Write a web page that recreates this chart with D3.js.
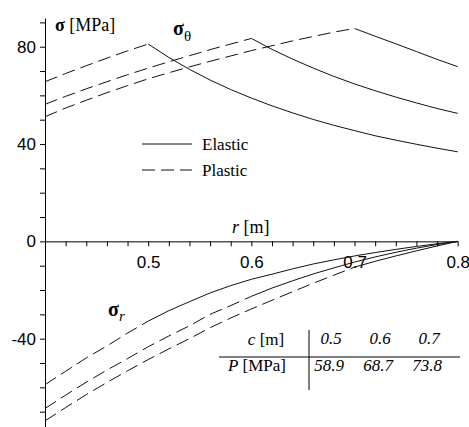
<!DOCTYPE html>
<html>
<head>
<meta charset="utf-8">
<script src="https://cdn.jsdelivr.net/npm/d3@7"></script>
<style>
  body { margin: 0; background: #fff; }
  svg { display: block; }
</style>
</head>
<body>
<div id="chart"></div>
<script>
// radius grid [m]
const rValues = [0.40, 0.42, 0.44, 0.46, 0.48, 0.50, 0.52, 0.54, 0.56, 0.58, 0.60,
                 0.62, 0.64, 0.66, 0.68, 0.70, 0.72, 0.74, 0.76, 0.78, 0.80];

// plastic radius c [m] and inner pressure P [MPa]
const cValues = [0.5, 0.6, 0.7];
const pValues = [58.9, 68.7, 73.8];

// hoop stress sigma_theta [MPa]
const sigmaTheta05 = [65.6, 69.0, 72.2, 75.3, 78.3, 81.1, 75.6, 70.7, 66.3, 62.4, 58.9,
                      55.7, 52.8, 50.1, 47.7, 45.5, 43.4, 41.6, 39.9, 38.3, 36.8];
const sigmaTheta06 = [56.3, 59.6, 62.7, 65.6, 68.5, 71.2, 73.8, 76.3, 78.8, 81.1, 83.4,
                      78.9, 74.9, 71.2, 67.8, 64.7, 61.9, 59.3, 56.9, 54.6, 52.6];
const sigmaTheta07 = [51.2, 54.8, 58.0, 61.1, 64.0, 66.8, 69.3, 71.7, 74.0, 76.2, 78.4,
                      80.4, 82.4, 84.2, 86.0, 87.5, 84.3, 81.2, 78.0, 74.8, 71.8];

// radial stress sigma_r [MPa]
const sigmaR05 = [-58.9, -53.4, -47.9, -43.0, -37.7, -32.8, -28.5, -24.8, -21.2, -18.2, -15.6,
                  -13.5, -11.3, -9.3, -7.6, -6.0, -4.6, -3.3, -2.1, -1.0, 0];
const sigmaR06 = [-68.7, -63.2, -57.9, -52.9, -48.2, -43.3, -38.9, -34.7, -30.0, -26.4, -22.6,
                  -19.2, -16.2, -13.4, -10.9, -8.5, -6.4, -4.5, -2.8, -1.3, 0];
const sigmaR07 = [-73.8, -68.3, -63.0, -58.0, -53.2, -48.6, -44.2, -40.0, -35.5, -31.5, -27.8,
                  -24.2, -20.7, -17.2, -13.9, -10.6, -8.2, -6.0, -3.9, -1.9, 0];

const xTickLabels = [0.5, 0.6, 0.7, 0.8];
const yTickLabels = [80, 40, 0, -40];

const width = 469, height = 427;
const serif = "'Liberation Serif', 'Times New Roman', serif";
const sans = "'Liberation Sans', Arial, sans-serif";

const svg = d3.select("#chart")
    .append("svg")
    .attr("width", width)
    .attr("height", height);

const x = d3.scaleLinear()
    .domain([0.4, 0.8])
    .range([45, 457.7]);

const y = d3.scaleLinear()
    .domain([-76.3, 91.8])
    .range([427, 18]);

// Y axis (ticks every 10, labels on some)
const yAxis = svg.append("g")
    .attr("transform", `translate(${x(0.4)},0)`)
    .call(d3.axisLeft(y)
        .tickValues(d3.range(-70, 91, 10))
        .tickSize(5)
        .tickSizeOuter(0)
        .tickFormat(d => yTickLabels.includes(d) ? d : ""));
yAxis.select(".domain").attr("stroke", "#000");
yAxis.selectAll("text")
    .attr("x", -9)
    .style("font-family", sans)
    .style("font-size", "17px")
    .attr("fill", "#000");

// X axis at sigma = 0
const xAxis = svg.append("g")
    .attr("transform", `translate(0,${y(0)})`)
    .call(d3.axisBottom(x)
        .tickValues(d3.range(21).map(i => +(0.42 + i * 0.02).toFixed(2)).filter(d => d <= 0.8))
        .tickSize(5)
        .tickSizeOuter(0)
        .tickFormat(d => xTickLabels.includes(d) ? d : ""));
xAxis.select(".domain").attr("stroke", "#000");
xAxis.selectAll("text")
    .attr("y", 15)
    .style("font-family", sans)
    .style("font-size", "17px")
    .attr("fill", "#000");

// curves: plastic part dashed (r <= c), elastic part solid (r >= c)
const line = d3.line()
    .x(d => x(d.r))
    .y(d => y(d.s));

const thetaSeries = [sigmaTheta05, sigmaTheta06, sigmaTheta07];
const radialSeries = [sigmaR05, sigmaR06, sigmaR07];

const curves = [];
cValues.forEach((c, i) => {
    [thetaSeries[i], radialSeries[i]].forEach(series => {
        const pts = rValues.map((r, j) => ({ r: r, s: series[j] }));
        curves.push({ pts: pts.filter(d => d.r <= c + 1e-9), dashed: true });
        curves.push({ pts: pts.filter(d => d.r >= c - 1e-9), dashed: false });
    });
});

svg.append("g")
    .selectAll("path")
    .data(curves)
    .enter()
    .append("path")
    .attr("d", d => line(d.pts))
    .attr("fill", "none")
    .attr("stroke", "#111")
    .attr("stroke-width", 1)
    .attr("stroke-dasharray", d => d.dashed ? "13,6" : null);

// axis labels
const yLabel = svg.append("text")
    .attr("x", 55)
    .attr("y", 31)
    .style("font-family", serif)
    .style("font-size", "18px");
yLabel.append("tspan").style("font-weight", "bold").text("σ");
yLabel.append("tspan").text(" [MPa]");

const xLabel = svg.append("text")
    .attr("x", 232)
    .attr("y", 233)
    .style("font-family", serif)
    .style("font-size", "18px");
xLabel.append("tspan").style("font-style", "italic").text("r");
xLabel.append("tspan").text(" [m]");

// curve family labels
const thetaLabel = svg.append("text")
    .attr("x", 173)
    .attr("y", 35)
    .style("font-family", serif)
    .style("font-size", "20px");
thetaLabel.append("tspan").style("font-weight", "bold").text("σ");
thetaLabel.append("tspan").attr("dy", 6).style("font-size", "15px").text("θ");

const rLabel = svg.append("text")
    .attr("x", 108)
    .attr("y", 316)
    .style("font-family", serif)
    .style("font-size", "20px");
rLabel.append("tspan").style("font-weight", "bold").text("σ");
rLabel.append("tspan").attr("dy", 5).style("font-size", "15px").style("font-style", "italic").text("r");

// legend
const legend = [
    { label: "Elastic", dashed: false, y: 144 },
    { label: "Plastic", dashed: true, y: 170 }
];
const lg = svg.append("g");
lg.selectAll("line")
    .data(legend)
    .enter()
    .append("line")
    .attr("x1", 142)
    .attr("x2", 192)
    .attr("y1", d => d.y)
    .attr("y2", d => d.y)
    .attr("stroke", "#111")
    .attr("stroke-dasharray", d => d.dashed ? "13,6" : null);
lg.selectAll("text")
    .data(legend)
    .enter()
    .append("text")
    .attr("x", 202)
    .attr("y", d => d.y + 6)
    .style("font-family", serif)
    .style("font-size", "17px")
    .text(d => d.label);

// table of c and P
const table = svg.append("g");
table.append("line")
    .attr("x1", 219).attr("x2", 460)
    .attr("y1", 357).attr("y2", 357)
    .attr("stroke", "#000");
table.append("line")
    .attr("x1", 309).attr("x2", 309)
    .attr("y1", 330).attr("y2", 390)
    .attr("stroke", "#000");

const cHead = table.append("text")
    .attr("x", 266).attr("y", 345)
    .attr("text-anchor", "middle")
    .style("font-family", serif)
    .style("font-size", "17px");
cHead.append("tspan").style("font-style", "italic").text("c");
cHead.append("tspan").text(" [m]");

const pHead = table.append("text")
    .attr("x", 257).attr("y", 371)
    .attr("text-anchor", "middle")
    .style("font-family", serif)
    .style("font-size", "17px");
pHead.append("tspan").style("font-style", "italic").text("P");
pHead.append("tspan").text(" [MPa]");

const colX = d3.scalePoint()
    .domain(cValues)
    .range([331, 429]);

table.selectAll("text.c")
    .data(cValues)
    .enter()
    .append("text")
    .attr("class", "c")
    .attr("x", d => colX(d))
    .attr("y", 344)
    .attr("text-anchor", "middle")
    .style("font-family", serif)
    .style("font-style", "italic")
    .style("font-size", "17px")
    .text(d => d.toFixed(1));

table.selectAll("text.p")
    .data(pValues)
    .enter()
    .append("text")
    .attr("class", "p")
    .attr("x", (d, i) => colX(cValues[i]) - 2)
    .attr("y", 371)
    .attr("text-anchor", "middle")
    .style("font-family", serif)
    .style("font-style", "italic")
    .style("font-size", "17px")
    .text(d => d.toFixed(1));
</script>
</body>
</html>
